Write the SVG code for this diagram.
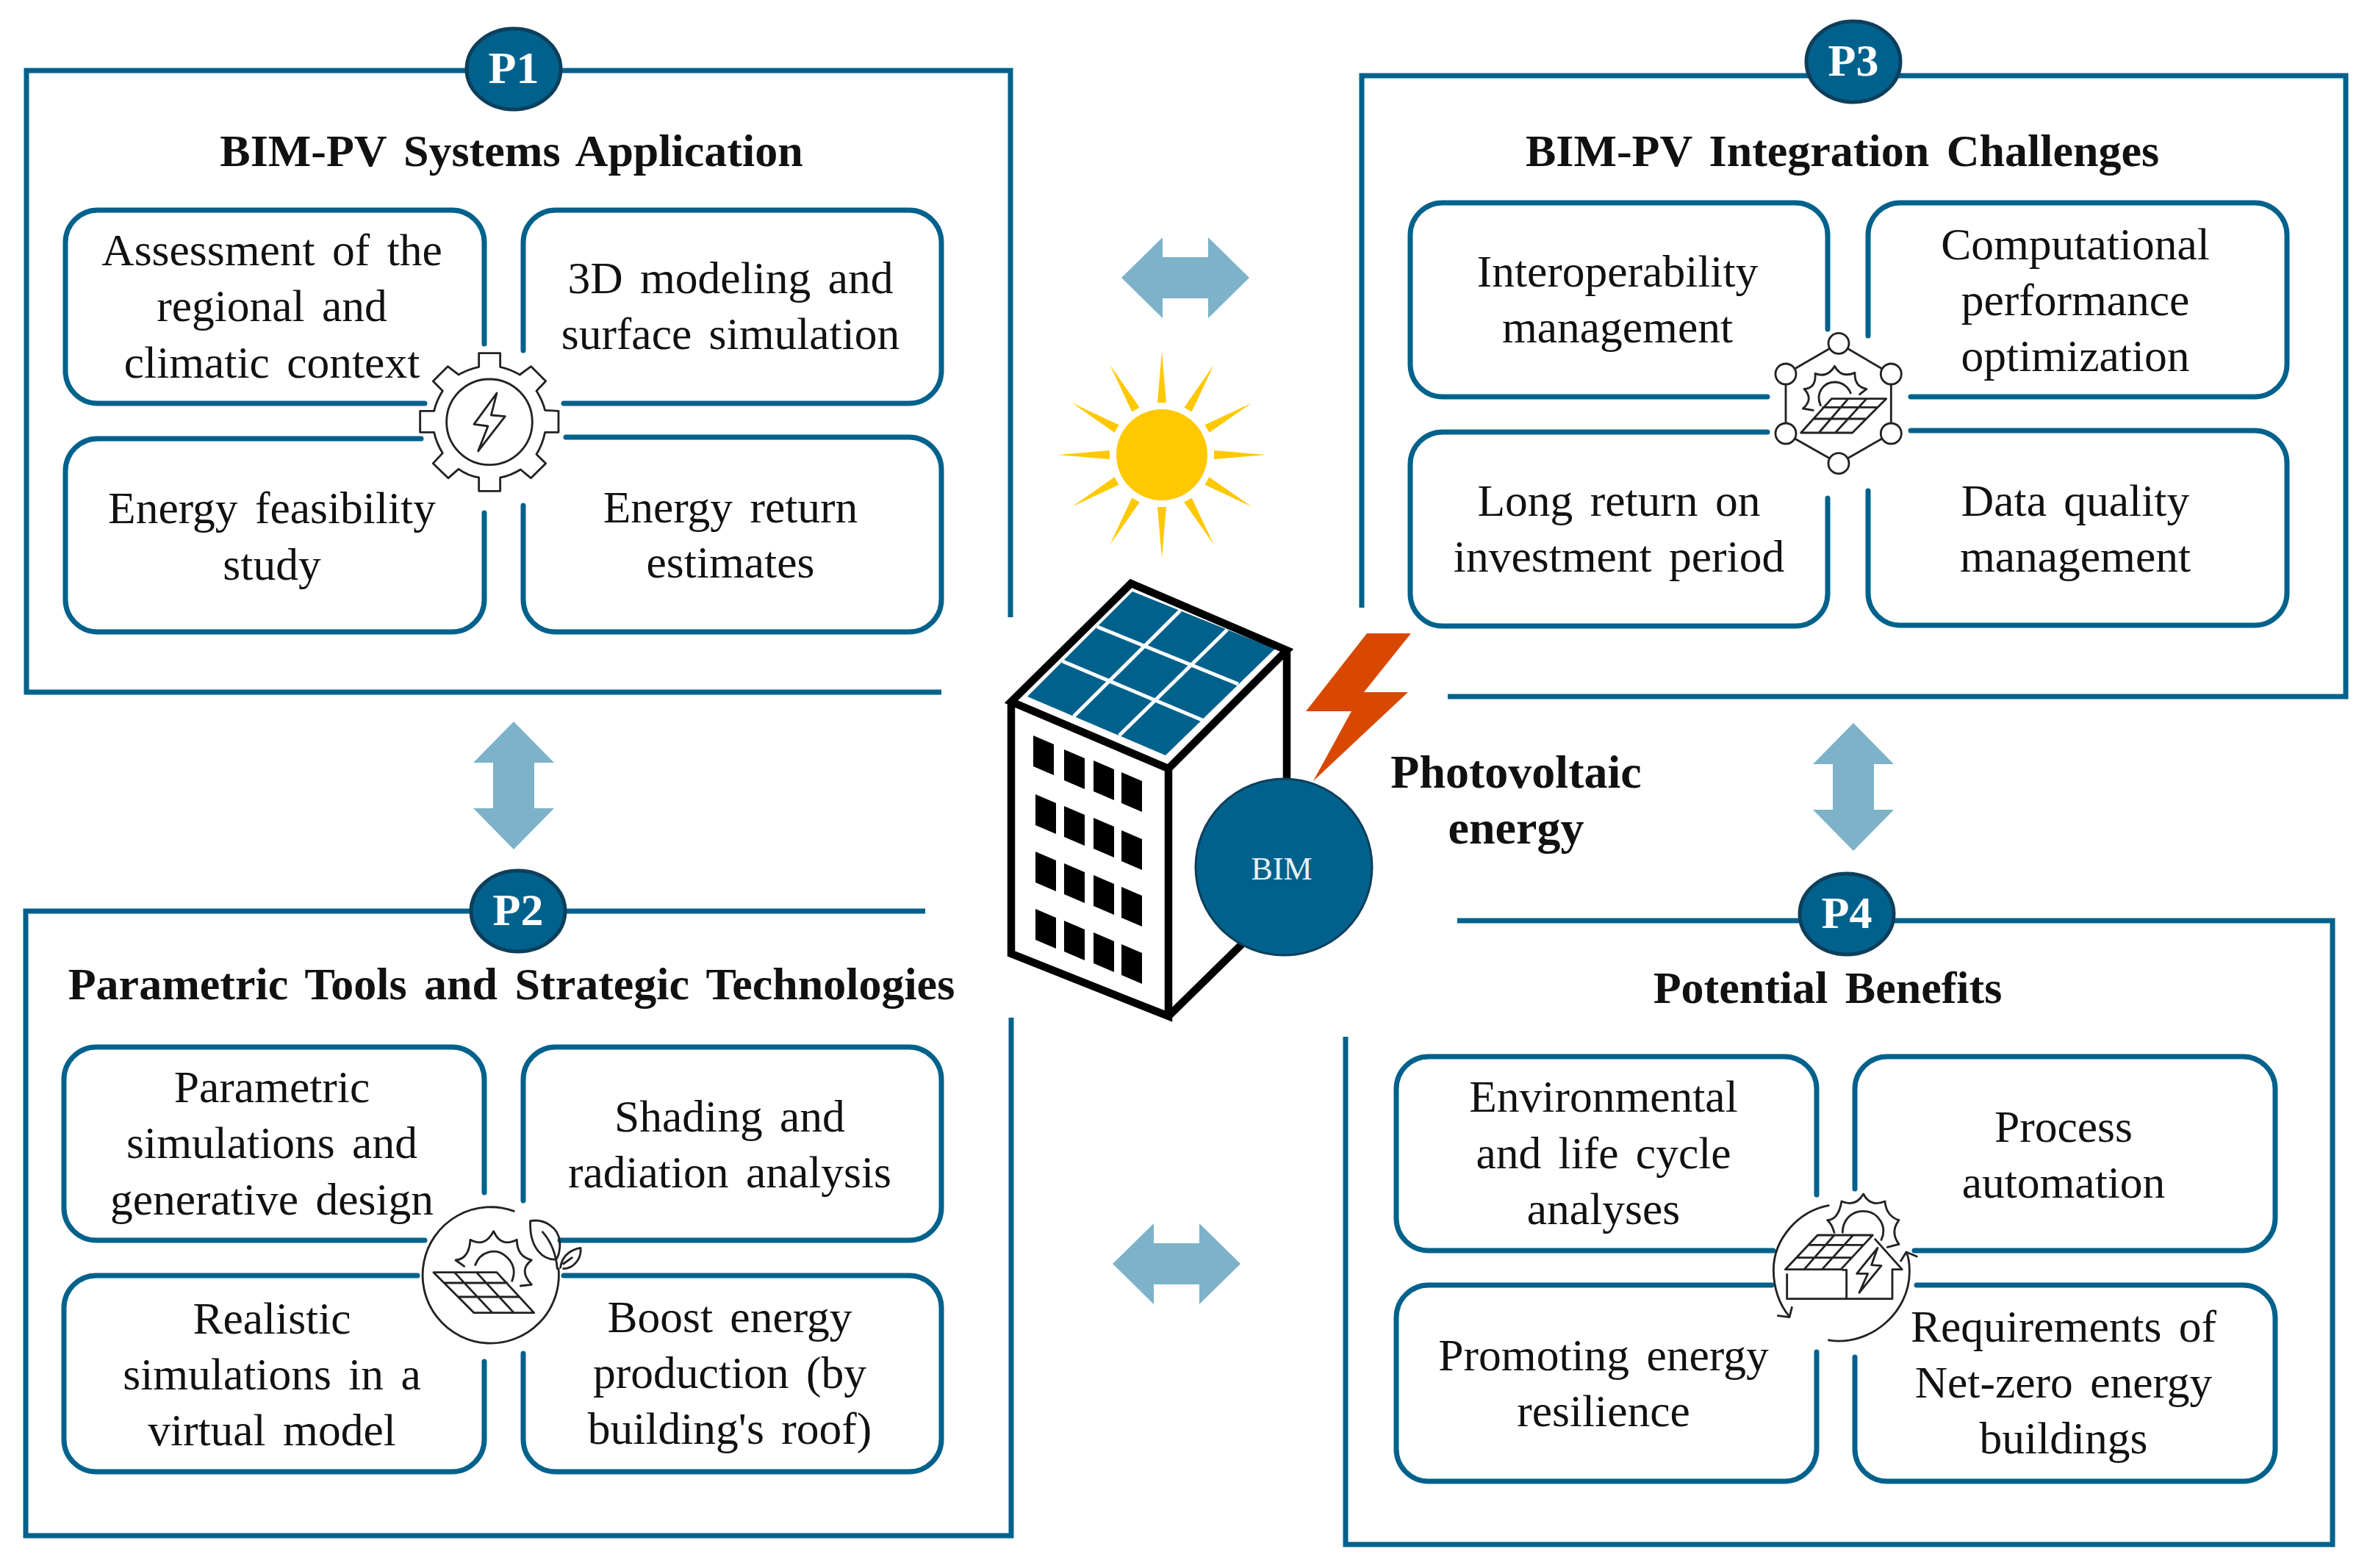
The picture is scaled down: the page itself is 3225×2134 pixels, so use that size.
<svg xmlns="http://www.w3.org/2000/svg" width="3225" height="2134" viewBox="0 0 3225 2134">
<style>
.fr{fill:none;stroke:#00628c;stroke-width:7}
.bx{fill:none;stroke:#00628c;stroke-width:7;stroke-linecap:round}
.t{font-family:"Liberation Serif","Times New Roman",serif;font-size:61.5px;fill:#111;text-anchor:middle;word-spacing:8px}
.h{font-family:"Liberation Serif","Times New Roman",serif;font-size:62px;font-weight:bold;fill:#111;text-anchor:middle;word-spacing:8px}
.b{font-family:"Liberation Serif","Times New Roman",serif;font-size:62px;font-weight:bold;fill:#fff;text-anchor:middle}
.ic{fill:none;stroke:#222;stroke-width:8.5;stroke-linejoin:round;stroke-linecap:round}
.bd{fill:#00628c;stroke:#0d3f5c;stroke-width:5}
.ar{fill:#7db2c9}
.ray{fill:#ffc800}
</style>
<defs>
<polygon id="arrow" points="-87,0 -31,-55 -31,-28 31,-28 31,-55 87,0 31,55 31,28 -31,28 -31,55"/>
<polygon id="ray" points="-6,-71 6,-71 0,-141"/>
<polygon id="win" points="0,0 28,12 28,54 0,42"/>
</defs>

<g id="connectors" class="ar">
<use href="#arrow" transform="translate(1613,378)"/>
<use href="#arrow" transform="translate(1601,1720)"/>
<use href="#arrow" transform="translate(699,1069) rotate(90)"/>
<use href="#arrow" transform="translate(2522,1071) rotate(90)"/>
</g>

<g id="P1">
<path class="fr" d="M1375,840V96H36V942H1281"/>
<ellipse class="bd" cx="699" cy="94" rx="64" ry="55"/>
<text class="b" x="699" y="113">P1</text>
<text class="h" x="696" y="226">BIM-PV Systems Application</text>
<g id="p1-a"><path class="bx" d="M659,468V330A44,44 0 0 0 615,286H133A44,44 0 0 0 89,330V505A44,44 0 0 0 133,549H578"/>
<text class="t" x="370" y="361">Assessment of the</text><text class="t" x="370" y="437">regional and</text><text class="t" x="370" y="514">climatic context</text></g>
<g id="p1-b"><path class="bx" d="M712,477V330A44,44 0 0 1 756,286H1237A44,44 0 0 1 1281,330V505A44,44 0 0 1 1237,549H767"/>
<text class="t" x="994" y="399">3D modeling and</text><text class="t" x="994" y="475">surface simulation</text></g>
<g id="p1-c"><path class="bx" d="M573,597H133A44,44 0 0 0 89,641V816A44,44 0 0 0 133,860H615A44,44 0 0 0 659,816V698"/>
<text class="t" x="370" y="712">Energy feasibility</text><text class="t" x="370" y="789">study</text></g>
<g id="p1-d"><path class="bx" d="M770,595H1237A44,44 0 0 1 1281,639V816A44,44 0 0 1 1237,860H756A44,44 0 0 1 712,816V688"/>
<text class="t" x="994" y="711">Energy return</text><text class="t" x="994" y="786">estimates</text></g>
<g id="p1-icon" transform="translate(520,440) scale(.3333)" class="ic">
<path d="M395,178V122H482V178Q525,188 562,210L608,176L668,236L630,276Q655,315 665,355L720,358V445L665,445Q655,495 630,535L668,572L607,632L565,597Q525,622 482,630V685H395V630Q350,622 312,595L270,632L208,572L247,530Q222,490 212,445H155V358H212Q222,315 247,276L208,236L268,176L312,210Q350,188 395,178Z"/>
<circle cx="438" cy="403" r="175"/>
<path d="M468,285L375,412L432,420L392,522L502,380L445,375Z"/>
</g>
</g>

<g id="P2">
<path class="fr" d="M1259,1240H35V2090H1376V1385"/>
<ellipse class="bd" cx="705" cy="1240" rx="64" ry="55"/>
<text class="b" x="705" y="1259">P2</text>
<text class="h" x="696" y="1360">Parametric Tools and Strategic Technologies</text>
<g id="p2-a"><path class="bx" d="M659,1623V1469A44,44 0 0 0 615,1425H131A44,44 0 0 0 87,1469V1644A44,44 0 0 0 131,1688H578"/>
<text class="t" x="370" y="1500">Parametric</text><text class="t" x="370" y="1576">simulations and</text><text class="t" x="370" y="1653">generative design</text></g>
<g id="p2-b"><path class="bx" d="M712,1634V1469A44,44 0 0 1 756,1425H1237A44,44 0 0 1 1281,1469V1644A44,44 0 0 1 1237,1688H762"/>
<text class="t" x="993" y="1540">Shading and</text><text class="t" x="993" y="1616">radiation analysis</text></g>
<g id="p2-c"><path class="bx" d="M568,1736H131A44,44 0 0 0 87,1780V1959A44,44 0 0 0 131,2003H615A44,44 0 0 0 659,1959V1853"/>
<text class="t" x="370" y="1815">Realistic</text><text class="t" x="370" y="1891">simulations in a</text><text class="t" x="370" y="1967">virtual model</text></g>
<g id="p2-d"><path class="bx" d="M767,1736H1237A44,44 0 0 1 1281,1780V1959A44,44 0 0 1 1237,2003H756A44,44 0 0 1 712,1959V1842"/>
<text class="t" x="993" y="1813">Boost energy</text><text class="t" x="993" y="1889">production (by</text><text class="t" x="993" y="1965">building's roof)</text></g>
<g id="p2-icon" transform="translate(540,1610) scale(.3333)" class="ic">
<path d="M478,115A278,278 0 1 0 660,350"/>
<path d="M545,155C600,145 660,180 665,240C668,270 660,300 650,312C600,315 540,270 545,155Z"/>
<path d="M595,200C630,240 650,290 655,350"/>
<path d="M668,345C675,290 720,270 750,265C755,310 720,350 680,350M680,330L715,305"/>
<path d="M275,340L240,315Q295,310 300,232Q360,265 395,197Q425,265 490,232Q490,300 550,315Q495,355 550,415L505,420"/>
<path d="M320,335C340,280 400,265 440,295C480,325 485,365 470,400"/>
<path d="M150,365H408L560,530H315ZM195,408H450M250,465H500M235,365L390,530M325,365L478,530"/>
</g>
</g>

<g id="P3">
<path class="fr" d="M1853,827V103H3192V948H1970"/>
<ellipse class="bd" cx="2522" cy="84" rx="64" ry="55"/>
<text class="b" x="2522" y="103">P3</text>
<text class="h" x="2507" y="226">BIM-PV Integration Challenges</text>
<g id="p3-a"><path class="bx" d="M2487,448V320A44,44 0 0 0 2443,276H1963A44,44 0 0 0 1919,320V496A44,44 0 0 0 1963,540H2405"/>
<text class="t" x="2201" y="390">Interoperability</text><text class="t" x="2201" y="466">management</text></g>
<g id="p3-b"><path class="bx" d="M2542,457V320A44,44 0 0 1 2586,276H3068A44,44 0 0 1 3112,320V496A44,44 0 0 1 3068,540H2600"/>
<text class="t" x="2824" y="353">Computational</text><text class="t" x="2824" y="429">performance</text><text class="t" x="2824" y="505">optimization</text></g>
<g id="p3-c"><path class="bx" d="M2405,588H1963A44,44 0 0 0 1919,632V808A44,44 0 0 0 1963,852H2443A44,44 0 0 0 2487,808V678"/>
<text class="t" x="2203" y="702">Long return on</text><text class="t" x="2203" y="778">investment period</text></g>
<g id="p3-d"><path class="bx" d="M2600,586H3068A44,44 0 0 1 3112,630V807A44,44 0 0 1 3068,851H2586A44,44 0 0 1 2542,807V668"/>
<text class="t" x="2824" y="702">Data quality</text><text class="t" x="2824" y="778">management</text></g>
<g id="p3-icon" transform="translate(2360,420) scale(.3333)" class="ic">
<path d="M426,142L640,267V510L426,632L210,510V267Z"/>
<g fill="#fff"><circle cx="426" cy="142" r="42"/><circle cx="640" cy="267" r="42"/><circle cx="640" cy="510" r="42"/><circle cx="426" cy="632" r="42"/><circle cx="210" cy="510" r="42"/><circle cx="210" cy="267" r="42"/></g>
<path d="M322,415L280,408Q325,370 285,328Q335,325 330,265Q380,285 410,235Q435,285 492,262Q490,320 540,328L512,350"/>
<path d="M352,395C330,345 365,300 410,300C440,300 465,320 475,345"/>
<path d="M397,368H620L482,507H272ZM362,403H585M325,450H538M465,368L345,507M540,368L412,507"/>
</g>
</g>

<g id="P4">
<path class="fr" d="M1983,1253H3174V2102H1831V1411"/>
<ellipse class="bd" cx="2513" cy="1244" rx="64" ry="55"/>
<text class="b" x="2513" y="1263">P4</text>
<text class="h" x="2487" y="1365">Potential Benefits</text>
<g id="p4-a"><path class="bx" d="M2472,1626V1482A44,44 0 0 0 2428,1438H1944A44,44 0 0 0 1900,1482V1658A44,44 0 0 0 1944,1702H2413"/>
<text class="t" x="2182" y="1513">Environmental</text><text class="t" x="2182" y="1590">and life cycle</text><text class="t" x="2182" y="1666">analyses</text></g>
<g id="p4-b"><path class="bx" d="M2524,1618V1482A44,44 0 0 1 2568,1438H3052A44,44 0 0 1 3096,1482V1658A44,44 0 0 1 3052,1702H2605"/>
<text class="t" x="2808" y="1554">Process</text><text class="t" x="2808" y="1630">automation</text></g>
<g id="p4-c"><path class="bx" d="M2411,1749H1944A44,44 0 0 0 1900,1793V1972A44,44 0 0 0 1944,2016H2428A44,44 0 0 0 2472,1972V1840"/>
<text class="t" x="2182" y="1865">Promoting energy</text><text class="t" x="2182" y="1941">resilience</text></g>
<g id="p4-d"><path class="bx" d="M2608,1749H3052A44,44 0 0 1 3096,1793V1972A44,44 0 0 1 3052,2016H2568A44,44 0 0 1 2524,1972V1847"/>
<text class="t" x="2808" y="1826">Requirements of</text><text class="t" x="2808" y="1902">Net-zero energy</text><text class="t" x="2808" y="1978">buildings</text></g>
<g id="p4-icon" transform="translate(2370,1600) scale(.3333)" class="ic">
<path d="M355,122C230,145 130,260 130,385C130,460 155,530 195,575M148,572L195,578L205,538"/>
<path d="M355,672C520,700 690,560 685,385C685,360 680,330 672,312M650,348L672,312L715,330"/>
<path d="M378,232C370,205 360,190 350,182Q395,180 408,105Q465,130 497,75Q525,130 585,105Q590,165 642,182Q605,230 642,280L595,292"/>
<path d="M412,232C412,180 450,145 495,145C560,145 595,210 570,262"/>
<path d="M310,243H535L405,383H178ZM275,283H497M228,335H450M378,243L255,383M455,243L328,383"/>
<path d="M185,403V503H615V383H655L545,260M428,385V503M412,385H428"/>
<path d="M555,295L470,400H515L480,478L570,368L530,365Z"/>
</g>
</g>

<g id="sun">
<ellipse cx="1581" cy="619" rx="62" ry="62" class="ray"/>
<g class="ray" transform="translate(1581,619)">
<use href="#ray"/><use href="#ray" transform="rotate(30)"/><use href="#ray" transform="rotate(60)"/><use href="#ray" transform="rotate(90)"/><use href="#ray" transform="rotate(120)"/><use href="#ray" transform="rotate(150)"/><use href="#ray" transform="rotate(180)"/><use href="#ray" transform="rotate(210)"/><use href="#ray" transform="rotate(240)"/><use href="#ray" transform="rotate(270)"/><use href="#ray" transform="rotate(300)"/><use href="#ray" transform="rotate(330)"/>
</g>
</g>

<g id="building">
<path d="M1539,794L1751,885L1590,1046L1376,955Z" fill="#fff"/>
<polygon points="1398,948 1541,805 1735,883 1586,1028" fill="#00628c"/>
<path d="M1446,900L1636,980M1493,853L1685,931M1461,975L1606,831M1523,1001L1670,857" stroke="#fff" stroke-width="5" fill="none"/>
<path d="M1539,794L1751,885L1590,1046L1376,955ZM1376,955V1298L1590,1383V1046M1751,885V1075M1590,1383L1695,1280" fill="none" stroke="#000" stroke-width="10.5"/>
<g>
<use href="#win" x="1406" y="1001"/><use href="#win" x="1448" y="1020"/><use href="#win" x="1488" y="1035"/><use href="#win" x="1526" y="1051"/>
<use href="#win" x="1409" y="1081"/><use href="#win" x="1448" y="1097"/><use href="#win" x="1488" y="1113"/><use href="#win" x="1526" y="1130"/>
<use href="#win" x="1409" y="1159"/><use href="#win" x="1448" y="1175"/><use href="#win" x="1488" y="1191"/><use href="#win" x="1526" y="1207"/>
<use href="#win" x="1409" y="1237"/><use href="#win" x="1448" y="1253"/><use href="#win" x="1488" y="1269"/><use href="#win" x="1526" y="1285"/>
</g>
</g>

<g id="bolt"><polygon points="1860,862 1920,862 1856,942 1916,942 1787,1063 1839,968 1777,968" fill="#d94800"/></g>

<g id="bim">
<circle cx="1747" cy="1180" r="120" fill="#00628c" stroke="#0d3f5c" stroke-width="3"/>
<text x="1744" y="1197" style="font-family:'Liberation Serif','Times New Roman',serif;font-size:44px;fill:#e6f2f6;text-anchor:middle">BIM</text>
</g>

<g id="pv-label">
<text class="h" x="2063" y="1072" style="font-size:64px">Photovoltaic</text>
<text class="h" x="2063" y="1148" style="font-size:64px">energy</text>
</g>
</svg>
